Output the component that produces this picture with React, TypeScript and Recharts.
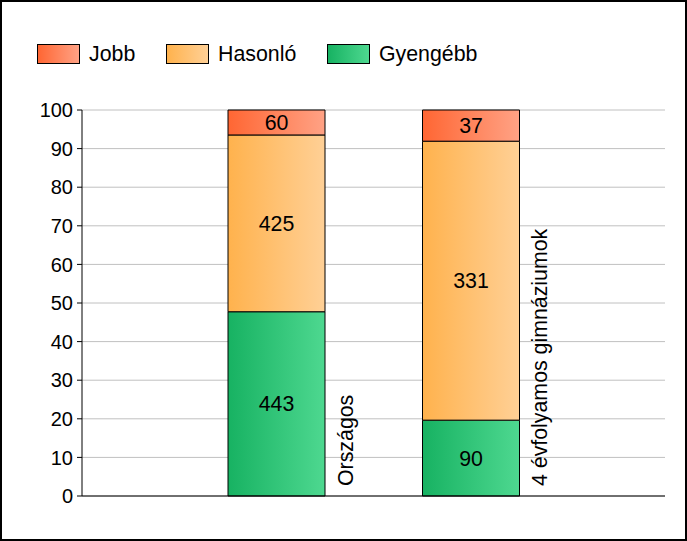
import React from "react";
import { BarChart, Bar, XAxis, YAxis, CartesianGrid, LabelList } from "recharts";

const categories = ["Országos", "4 évfolyamos gimnáziumok"];
const gyengebb = [443, 90];
const hasonlo = [425, 331];
const jobb = [60, 37];
const yTicks = [0, 0.1, 0.2, 0.3, 0.4, 0.5, 0.6, 0.7, 0.8, 0.9, 1];

const FONT = "'Liberation Sans', Arial, sans-serif";

const SERIES = [
  { key: "jobb", name: "Jobb", from: "#FF6633", to: "#FFA285", left: 37 },
  { key: "hasonlo", name: "Hasonló", from: "#FFB24D", to: "#FFD096", left: 166 },
  { key: "gyengebb", name: "Gyengébb", from: "#17B262", to: "#4ED890", left: 327 },
];

const data = categories.map((c, i) => ({
  name: c,
  gyengebb: gyengebb[i],
  hasonlo: hasonlo[i],
  jobb: jobb[i],
}));

const LABEL_START_Y = 486;

function CategoryTick(props: any) {
  const { x, payload } = props;
  const tx = x + 48.5 + 28;
  const ty = LABEL_START_Y;
  return (
    <text
      x={tx}
      y={ty}
      transform={`rotate(-90 ${tx} ${ty})`}
      textAnchor="start"
      fontFamily={FONT}
      fontSize={21.33}
      fill="#000"
    >
      {payload.value}
    </text>
  );
}

export default function App() {
  return (
    <div style={{ position: "relative", width: 687, height: 541, background: "#fff", fontFamily: FONT }}>
      <style>{`body{margin:0}`}</style>
      <BarChart
        width={687}
        height={541}
        data={data}
        stackOffset="expand"
        margin={{ top: 110, right: 22, bottom: 0, left: 22 }}
        barSize={97}
        style={{ position: "absolute", left: 0, top: 0 }}
      >
        <defs>
          {SERIES.map((s) => (
            <linearGradient key={s.key} id={`g-${s.key}`} x1="0" y1="0" x2="1" y2="0">
              <stop offset="0%" stopColor={s.from} />
              <stop offset="100%" stopColor={s.to} />
            </linearGradient>
          ))}
        </defs>
        <CartesianGrid vertical={false} stroke="#c0c0c0" strokeWidth={1} />
        <XAxis
          dataKey="name"
          height={45}
          padding={{ left: 97, right: 97 }}
          axisLine={{ stroke: "#000", strokeWidth: 1 }}
          tickLine={false}
          tick={<CategoryTick />}
          interval={0}
        />
        <YAxis
          width={60}
          domain={[0, 1]}
          ticks={yTicks}
          tickFormatter={(v: number) => String(Math.round(v * 100))}
          axisLine={{ stroke: "#000", strokeWidth: 1 }}
          tickLine={{ stroke: "#000", strokeWidth: 1 }}
          tickSize={5}
          tickMargin={4}
          tick={{ fill: "#000", fontSize: 20, fontFamily: FONT }}
        />
        {[...SERIES].reverse().map((s) => (
          <Bar
            key={s.key}
            dataKey={s.key}
            name={s.name}
            stackId="a"
            fill={`url(#g-${s.key})`}
            stroke="#000"
            strokeWidth={1}
            isAnimationActive={false}
          >
            <LabelList dataKey={s.key} position="center" fill="#000" fontSize={21.33} fontFamily={FONT} />
          </Bar>
        ))}
      </BarChart>
      {SERIES.map((s) => (
        <div
          key={s.key}
          style={{ position: "absolute", left: s.left, top: 44, height: 20, display: "flex", alignItems: "center" }}
        >
          <div
            style={{
              width: 41,
              height: 18,
              border: "1px solid #000",
              background: `linear-gradient(to right, ${s.from}, ${s.to})`,
            }}
          />
          <span style={{ marginLeft: 9, fontSize: 21.33, color: "#000", lineHeight: "20px" }}>{s.name}</span>
        </div>
      ))}
      <div
        style={{
          position: "absolute",
          inset: 0,
          border: "2px solid #000",
          boxSizing: "border-box",
          pointerEvents: "none",
        }}
      />
    </div>
  );
}
